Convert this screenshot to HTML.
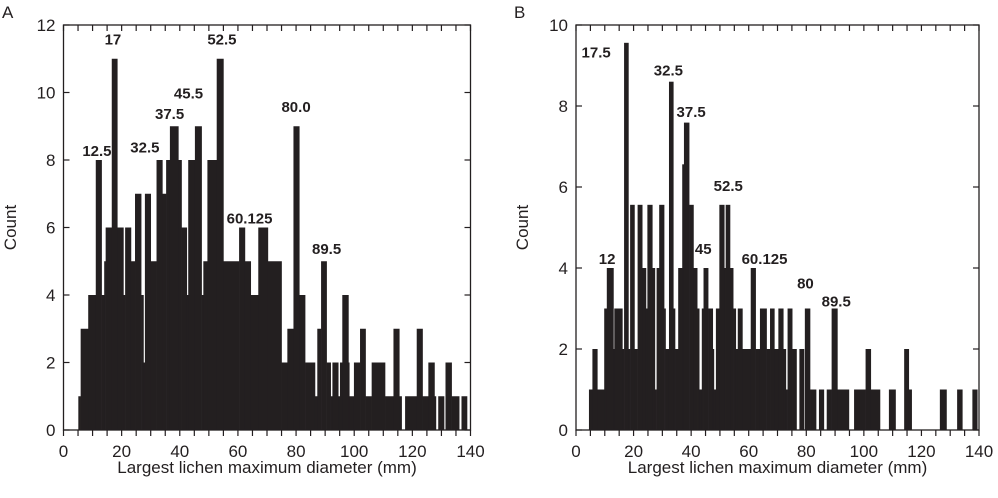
<!DOCTYPE html>
<html><head><meta charset="utf-8"><style>
body{margin:0;background:#fff}
svg{display:block;font-family:"Liberation Sans",Arial,sans-serif}
</style></head><body>
<svg id="chart" width="998" height="498" viewBox="0 0 998 498"></svg>
<script>
// Panel A data: bin left edges (mm) and counts; final edge closes the last bin
const aEdges=[5.1,5.9,8.5,11.1,13.1,14.0,14.5,16.6,18.5,20.6,21.2,23.2,24.6,26.7,27.5,28.0,30.0,32.0,34.0,35.3,36.6,39.5,40.6,42.4,42.9,45.2,47.5,48.1,49.5,52.7,55.0,60.4,62.4,64.4,67.0,70.3,75.0,77.0,79.1,81.1,83.1,86.5,87.3,88.6,90.5,91.9,92.5,94.5,95.1,95.9,98.0,98.3,99.9,102.0,103.9,106.0,110.6,113.5,115.5,116.3,117.5,121.5,123.5,125.5,127.6,128.1,128.9,130.9,131.4,133.5,136.1,136.9,138.8];
const aCounts=[1,3,4,8,4,5,6,11,6,4,6,5,7,4,2,7,5,8,7,8,9,8,6,4,8,9,4,5,8,11,5,6,5,4,6,5,2,3,9,4,2,1,3,5,2,1,2,1,2,4,2,1,2,3,1,2,1,3,1,0,1,3,1,2,1,0,1,0,2,1,0,1];
const aLabels=["12.5","17","32.5","37.5","45.5","52.5","60.125","80.0","89.5"];
const aLabelX=[11.5,17,28,36.5,43,54.5,64,80,90.5];
const aLabelY=[8.3,11.6,8.4,9.4,10.0,11.6,6.3,9.6,5.4];
// Panel B data
const bEdges=[4.5,5.7,7.4,9.8,10.7,13.0,13.3,16.1,16.7,18.2,18.8,20.3,21.4,23.0,24.3,24.8,26.5,27.4,28.0,28.9,30.6,31.1,32.3,33.8,34.4,35.5,36.9,37.5,39.3,40.8,42.1,42.8,43.7,44.3,45.9,47.5,47.9,48.6,49.8,51.5,52.0,53.5,54.6,55.5,56.2,57.8,60.7,62.4,63.9,66.2,67.4,68.9,70.3,72.0,72.9,73.5,75.1,76.6,77.6,79.2,79.5,81.3,83.4,84.4,86.1,87.1,88.8,90.8,94.8,96.6,100.6,102.4,105.6,108.7,111.0,114.0,115.6,116.6,126.4,128.7,132.4,134.2,137.7,139.4];
const bCounts=[1,2,1,3,4,2,3,2,9.56,2,5.56,2,5.56,4,3,5.56,4,1,4,5.56,3,2,8.6,3,2,4,6.56,7.59,5.56,4,3,1,3,4,3,2,1,3,5.56,4,5.56,4,3,2,3,2,4,2,3,2,3,2,3,2,1,3,2,0,2,0,3,1,0,1,0,1,3,1,0,1,2,1,0,1,0,2,1,0,1,0,1,0,1];
const bLabels=["17.5","12","32.5","37.5","45","52.5","60.125","80","89.5"];
const bLabelX=[7,10.8,32.1,40,44.2,52.9,65.5,79.7,90.4];
const bLabelY=[9.2,4.1,8.75,7.73,4.35,5.9,4.1,3.5,3.05];
const xTicks=[0,20,40,60,80,100,120,140];

const NS="http://www.w3.org/2000/svg";
const svg=document.getElementById('chart');
function mk(tag,attrs,parent){const e=document.createElementNS(NS,tag);for(const k in attrs)e.setAttribute(k,attrs[k]);(parent||svg).appendChild(e);return e;}

function panel(p){
  const g=mk('g',{});
  
  
  const xs=v=>p.x0+(v/140)*(p.x1-p.x0);
  const ys=v=>p.y1-(v/p.ymax)*(p.y1-p.y0);
  for(let i=0;i<p.counts.length;i++){
    if(p.counts[i]<=0)continue;
    const r=mk('rect',{x:xs(p.edges[i]),y:ys(p.counts[i]),width:xs(p.edges[i+1])-xs(p.edges[i])+0.3,height:ys(0)-ys(p.counts[i]),fill:'#231f20'},g);
    
    
  }
  const f=mk('rect',{x:p.x0,y:p.y0,width:p.x1-p.x0,height:p.y1-p.y0,fill:'none',stroke:'#231f20','stroke-width':1.3},g);
  
  
  for(let v=0;v<=140;v+=5){
    mk('line',{x1:xs(v),x2:xs(v),y1:p.y1,y2:p.y1+6,stroke:'#231f20','stroke-width':1.2},g);
    mk('line',{x1:xs(v),x2:xs(v),y1:p.y0,y2:p.y0+6,stroke:'#231f20','stroke-width':1.2},g);
  }
  xTicks.forEach(v=>{
    const t=mk('text',{x:xs(v),y:p.y1+27,'text-anchor':'middle','font-size':17,fill:'#231f20'},g);
    t.textContent=v;
    
    
  });
  for(let v=0;v<=p.ymax;v+=p.ystep){
    mk('line',{x1:p.x0,x2:p.x0+6,y1:ys(v),y2:ys(v),stroke:'#231f20','stroke-width':1.2},g);
    mk('line',{x1:p.x1-6,x2:p.x1,y1:ys(v),y2:ys(v),stroke:'#231f20','stroke-width':1.2},g);
    const t=mk('text',{x:p.x0-8,y:ys(v)+6,'text-anchor':'end','font-size':17,fill:'#231f20'},g);
    t.textContent=v;
    
    
  }
  p.labels.forEach((s,i)=>{
    const t=mk('text',{x:xs(p.lx[i]),y:ys(p.ly[i])+p.labelDy,'text-anchor':'middle','font-size':15,'font-weight':'bold',fill:'#231f20'},g);
    t.textContent=s;
    
    
  });
  const xt=mk('text',{x:(p.x0+p.x1)/2,y:473,'text-anchor':'middle','font-size':17,fill:'#231f20'},g);
  xt.textContent='Largest lichen maximum diameter (mm)';
  
  
  const yt=mk('text',{x:0,y:0,'text-anchor':'middle','font-size':17,fill:'#231f20',transform:`translate(${p.ytx},${(p.y0+p.y1)/2}) rotate(-90)`},g);
  yt.textContent='Count';
  
  
  const pl=mk('text',{x:p.ptx,y:18,'font-size':17,fill:'#231f20'},g);
  pl.textContent=p.letter;
  
  
}
panel({name:'panel-a',x0:63.5,x1:470.5,y0:25,y1:430,ymax:12,ystep:2,edges:aEdges,counts:aCounts,labels:aLabels,lx:aLabelX,ly:aLabelY,labelDy:6,ytx:16,ptx:2,letter:'A'});
panel({name:'panel-b',x0:576,x1:979,y0:25,y1:430,ymax:10,ystep:2,edges:bEdges,counts:bCounts,labels:bLabels,lx:bLabelX,ly:bLabelY,labelDy:0,ytx:528,ptx:514,letter:'B'});
</script>
</body></html>
